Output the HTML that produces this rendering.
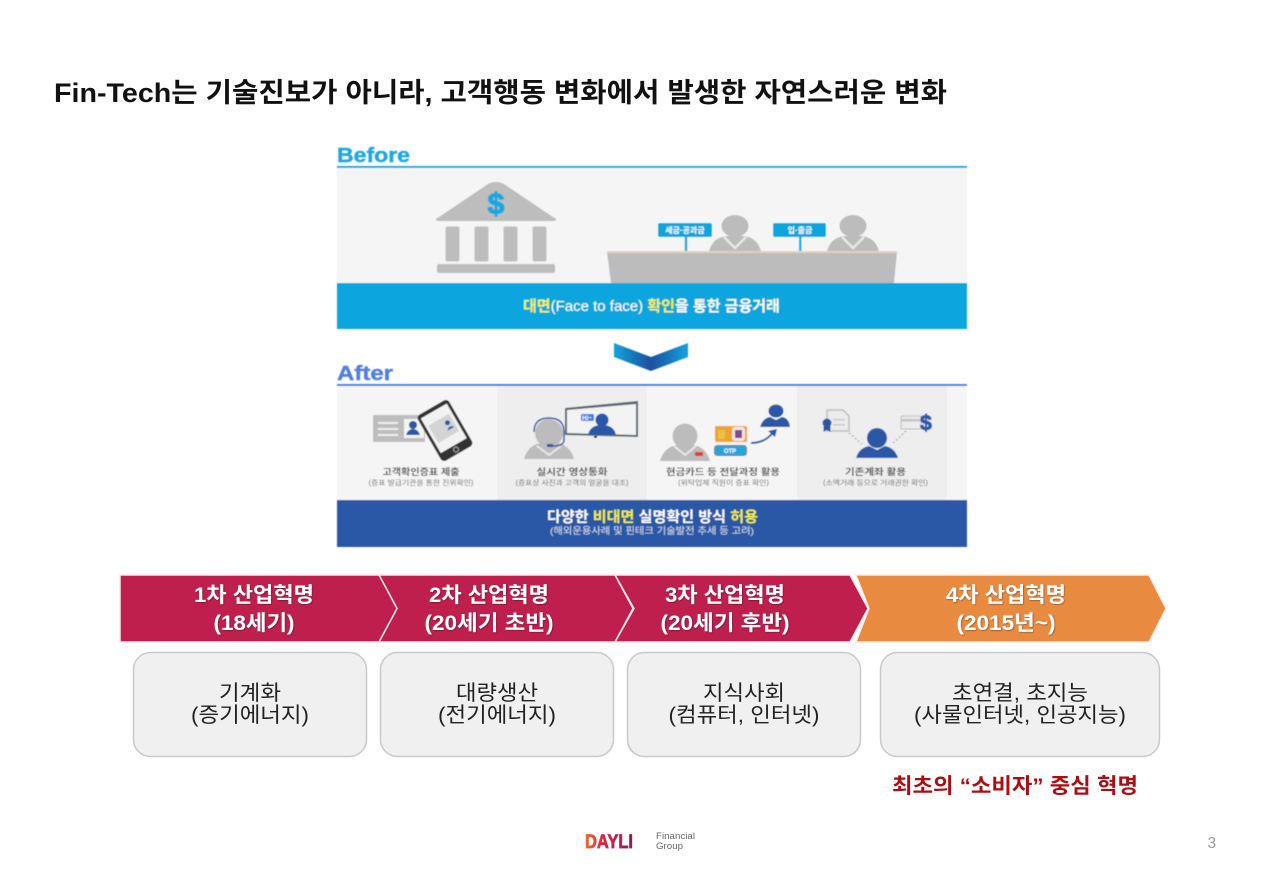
<!DOCTYPE html>
<html lang="ko"><head><meta charset="utf-8"><title>Fin-Tech</title>
<style>
html,body{margin:0;padding:0;background:#fff}
svg{display:block}
text{font-family:"Liberation Sans","Noto Sans CJK KR",sans-serif}
.c{text-anchor:middle}
</style></head>
<body>
<svg width="1280" height="886" viewBox="0 0 1280 886" xmlns="http://www.w3.org/2000/svg">
<defs>
<filter id="b" x="-2%" y="-2%" width="104%" height="104%"><feGaussianBlur stdDeviation="0.55"/></filter>
<filter id="s" x="-5%" y="-5%" width="110%" height="110%"><feDropShadow dx="0.8" dy="0.8" stdDeviation="0.6" flood-color="#000" flood-opacity="0.35"/></filter>
<linearGradient id="cl" x1="0" x2="1" y1="0" y2="0"><stop offset="0" stop-color="#11a3dd"/><stop offset="1" stop-color="#1d4f9f"/></linearGradient>
<linearGradient id="cr" x1="0" x2="1" y1="0" y2="0"><stop offset="0" stop-color="#1d4f9f"/><stop offset="1" stop-color="#11a3dd"/></linearGradient>
<linearGradient id="dl" x1="0" x2="1" y1="0" y2="0"><stop offset="0" stop-color="#ef6a2c"/><stop offset=".35" stop-color="#e3263f"/><stop offset=".75" stop-color="#b41f4e"/><stop offset="1" stop-color="#7c1f5f"/></linearGradient>
</defs>

<text x="54" y="102" font-size="27" font-weight="700" fill="#111" textLength="893" lengthAdjust="spacingAndGlyphs">Fin-Tech는 기술진보가 아니라, 고객행동 변화에서 발생한 자연스러운 변화</text>

<g filter="url(#b)">
<!-- Before -->
<text x="337" y="162" font-size="20" font-weight="700" fill="#1ea7e0" stroke="#1ea7e0" stroke-width=".4" textLength="73" lengthAdjust="spacingAndGlyphs">Before</text>
<rect x="337" y="166" width="630" height="2" fill="#1ea7e0"/>
<rect x="337" y="168" width="630" height="115" fill="#f5f5f5"/>
<path d="M436 220 Q436 218 439 217 L488 184 Q496 180 504 184 L553 217 Q556 218 556 220 Q556 221 553 221 L439 221 Q436 221 436 220Z" fill="#bdbdbd"/>
<rect x="445.500" y="226.500" width="14" height="35" rx="2" fill="#bdbdbd"/>
<rect x="474.500" y="226.500" width="14" height="35" rx="2" fill="#bdbdbd"/>
<rect x="503.500" y="226.500" width="14" height="35" rx="2" fill="#bdbdbd"/>
<rect x="532.500" y="226.500" width="14" height="35" rx="2" fill="#bdbdbd"/>
<rect x="437" y="264" width="118" height="9" rx="2" fill="#bdbdbd"/>
<text x="496" y="214" class="c" font-size="30" font-weight="700" fill="#1aa5e0" stroke="#1aa5e0" stroke-width="1.300">$</text>

<ellipse cx="735" cy="226" rx="13.500" ry="11" fill="#bcbcbc"/>
<path d="M709 251 Q713 237 727 236 L743 236 Q757 237 761 251Z" fill="#bcbcbc"/>
<path d="M724 237 L735 248 L746 237" fill="none" stroke="#e8e8e8" stroke-width="2.500"/>
<ellipse cx="853" cy="226" rx="13.500" ry="11" fill="#bcbcbc"/>
<path d="M827 251 Q831 237 845 236 L861 236 Q875 237 879 251Z" fill="#bcbcbc"/>
<path d="M842 237 L853 248 L864 237" fill="none" stroke="#e8e8e8" stroke-width="2.500"/>

<rect x="684.800" y="236" width="2.400" height="15" fill="#0ca5de"/>
<rect x="799" y="236" width="2.400" height="15" fill="#0ca5de"/>
<rect x="658" y="223" width="54" height="14" rx="2" fill="#0ca5de"/>
<rect x="773" y="223" width="53" height="14" rx="2" fill="#0ca5de"/>
<text x="685" y="233" class="c" font-size="8" font-weight="700" fill="#fff">세금·공과금</text>
<text x="800" y="233" class="c" font-size="8" font-weight="700" fill="#fff">입·출금</text>

<polygon points="607,252 897,252 894,283 611,283" fill="#bcbcbc"/>
<rect x="607" y="251" width="290" height="2" fill="#e6d3b8"/>

<rect x="337" y="283" width="630" height="46" fill="#0ca5de"/>
<text y="311" font-size="15" font-weight="700" fill="#fff"><tspan x="523" fill="#f3f24a">대면</tspan><tspan font-weight="400">(Face to face) </tspan><tspan fill="#f3f24a">확인</tspan>을 통한 금융거래</text>

<!-- arrow -->
<polygon points="614,343 651,357 651,371 614,357" fill="url(#cl)"/>
<polygon points="651,357 688,343 688,357 651,371" fill="url(#cr)"/>

<!-- After -->
<text x="337" y="380" font-size="20" font-weight="700" fill="#4f7fe0" stroke="#4f7fe0" stroke-width=".4" textLength="56" lengthAdjust="spacingAndGlyphs">After</text>
<rect x="337" y="384" width="630" height="2" fill="#4f7fe0"/>
<rect x="337" y="386" width="630" height="114" fill="#f5f5f5"/>
<rect x="497" y="386" width="150" height="114" fill="#eeeeee"/>
<rect x="797" y="386" width="150" height="114" fill="#eeeeee"/>

<!-- panel 1 icon -->
<rect x="373" y="415" width="52" height="27" rx="1" fill="#bdbdbd"/>
<rect x="378" y="422" width="20" height="2" fill="#eee"/><rect x="378" y="428" width="20" height="2" fill="#eee"/><rect x="378" y="434" width="20" height="2" fill="#eee"/>
<rect x="404" y="419" width="20" height="19" fill="#f4f4f4"/>
<circle cx="413" cy="425" r="4" fill="#2a58a6"/><path d="M406 435 Q408 429 413 429 Q418 429 420 435Z" fill="#2a58a6"/>
<g transform="rotate(-30 445 430.500)">
<rect x="427" y="404" width="36" height="53" rx="4" fill="#333"/>
<rect x="430" y="408" width="30" height="40" fill="#f2f2f2"/>
<rect x="433" y="418" width="24" height="20" fill="#d4d4d4"/>
<circle cx="451" cy="425" r="2.500" fill="#2a58a6"/><path d="M447 432 Q451 427 455 432Z" fill="#2a58a6"/>
<circle cx="445" cy="452.500" r="2.500" fill="none" stroke="#aaa" stroke-width="1"/>
</g>
<text x="421" y="475" class="c" font-size="9" font-weight="700" fill="#555" textLength="77" lengthAdjust="spacingAndGlyphs">고객확인증표 제출</text>
<text x="421" y="485" class="c" font-size="7" fill="#666" textLength="105" lengthAdjust="spacingAndGlyphs">(증표 발급기관을 통한 진위확인)</text>

<!-- panel 2 icon -->
<polygon points="565,408 638,401 638,437 565,435" fill="#5a6672"/>
<polygon points="567,410 636,404 636,435 567,433" fill="#f3f3f3"/>
<circle cx="602" cy="420" r="6.500" fill="#2a58a6"/>
<path d="M588 435 Q590 425 602 425 Q614 425 616 435Z" fill="#2a58a6"/>
<rect x="581" y="414" width="13" height="7" rx="1.500" fill="#4a7fd8"/>
<text x="587" y="420" class="c" font-size="6" font-weight="700" fill="#fff">Hi~</text>
<rect x="594" y="436" width="3" height="2" fill="#333"/>
<ellipse cx="549" cy="433" rx="14" ry="14" fill="#bcbcbc"/>
<path d="M524 459 Q528 445 541 443 L557 443 Q570 445 574 459Z" fill="#bcbcbc"/>
<path d="M537 446 L549 455 L561 446" fill="none" stroke="#e8e8e8" stroke-width="2"/>
<path d="M534 432 Q534 418 549 418 Q564 418 564 432 L564 441 Q563 446 553 446" fill="none" stroke="#2a58a6" stroke-width="1.500"/>
<rect x="547" y="444" width="6" height="3" fill="#2a58a6"/>
<text x="572" y="475" class="c" font-size="9" font-weight="700" fill="#555" textLength="71" lengthAdjust="spacingAndGlyphs">실시간 영상통화</text>
<text x="572" y="485" class="c" font-size="7" fill="#666" textLength="113" lengthAdjust="spacingAndGlyphs">(증표상 사진과 고객의 얼굴을 대조)</text>

<!-- panel 3 icon -->
<circle cx="685" cy="436" r="12.500" fill="#bcbcbc"/>
<path d="M660 461 Q664 447 677 445 L693 445 Q706 447 710 461Z" fill="#bcbcbc"/>
<path d="M674 446 L685 455 L696 446" fill="none" stroke="#e8e8e8" stroke-width="2"/>
<rect x="695" y="452" width="8" height="4" fill="#e04030"/>
<rect x="715" y="426" width="32" height="16" rx="1.500" fill="#f0a22e"/>
<rect x="718" y="430" width="7" height="9" fill="#e8c24a"/>
<rect x="732" y="427" width="13" height="14" rx="3" fill="#f3e6e6"/>
<rect x="735" y="430" width="7" height="8" fill="#7f4a8a"/>
<rect x="714.500" y="445.500" width="32" height="10" rx="3" fill="#26a5dd" stroke="#777" stroke-width="1"/>
<text x="730" y="453" class="c" font-size="6" font-weight="700" fill="#fff">OTP</text>
<path d="M751 443 Q766 443 774 431" fill="none" stroke="#2a58a6" stroke-width="2"/>
<polygon points="777,429 768,431 775,437" fill="#2a58a6"/>
<ellipse cx="776" cy="411" rx="7.500" ry="6.500" fill="#2a58a6"/>
<path d="M760 427 Q763 418 770 417 L776 420 L782 417 Q789 418 790 427Z" fill="#2a58a6"/>
<text x="723" y="475" class="c" font-size="9" font-weight="700" fill="#555" textLength="114" lengthAdjust="spacingAndGlyphs">현금카드 등 전달과정 활용</text>
<text x="723.500" y="485" class="c" font-size="7" fill="#666" textLength="91" lengthAdjust="spacingAndGlyphs">(위탁업체 직원이 증표 확인)</text>

<!-- panel 4 icon -->
<path d="M827 410 H843 L849 416 V431 H827Z" fill="#ececec" stroke="#bdbdbd" stroke-width="1.500"/>
<rect x="833" y="419" width="12" height="1.500" fill="#c8c8c8"/><rect x="833" y="424" width="12" height="1.500" fill="#c8c8c8"/>
<circle cx="827" cy="423" r="4.500" fill="#2a58a6"/><polygon points="823.500,426 830.500,426 830.500,432 827,430 823.500,432" fill="#2a58a6"/>
<rect x="901" y="416" width="20" height="13" rx="1" fill="#ececec" stroke="#bdbdbd" stroke-width="1"/>
<rect x="901" y="419" width="20" height="2.500" fill="#c4c4c4"/>
<text x="926" y="430" class="c" font-size="21" font-weight="700" fill="#2a58a6" stroke="#2a58a6" stroke-width="1">$</text>
<path d="M849 433 L862 444 M906 431 L892 444" stroke="#aaa" stroke-width="1.500" stroke-dasharray="1.500 2.500" fill="none"/>
<ellipse cx="877" cy="438" rx="10" ry="10" fill="#2a58a6"/>
<path d="M856 458 Q859 448 869 446 L877 450 L885 446 Q895 448 898 458Z" fill="#2a58a6"/>
<text x="875.500" y="475" class="c" font-size="9" font-weight="700" fill="#555" textLength="61" lengthAdjust="spacingAndGlyphs">기존계좌 활용</text>
<text x="875.500" y="485" class="c" font-size="7" fill="#666" textLength="105" lengthAdjust="spacingAndGlyphs">(소액거래 등으로 거래권한 확인)</text>

<rect x="337" y="500" width="630" height="47" fill="#2a58a6"/>
<text y="522" font-size="14.500" font-weight="700" fill="#fff" x="547" textLength="211" lengthAdjust="spacingAndGlyphs">다양한 <tspan fill="#f5ee3a">비대면</tspan> 실명확인 방식 <tspan fill="#f5ee3a">허용</tspan></text>
<text x="550" y="534" font-size="9.500" fill="#d5deef" textLength="204" lengthAdjust="spacingAndGlyphs">(해외운용사례 및 핀테크 기술발전 추세 등 고려)</text>
</g>

<!-- chevrons -->
<polygon points="856,575 1149,575 1166,608.500 1149,642 856,642 869,608.500" fill="#e98a41" stroke="#f6ece4" stroke-width="1.500"/>
<polygon points="615,575 850,575 868,608.500 850,642 615,642 634,608.500" fill="#bf1f4c" stroke="#f7e9ed" stroke-width="1.500"/>
<polygon points="379,575 615,575 633,608.500 615,642 379,642 397,608.500" fill="#bf1f4c" stroke="#f7e9ed" stroke-width="1.500"/>
<polygon points="120,575 379,575 397,608.500 379,642 120,642" fill="#bf1f4c" stroke="#f7e9ed" stroke-width="1.500"/>

<g font-size="21" font-weight="700" fill="#fff" text-anchor="middle" filter="url(#s)">
<text x="254" y="602" textLength="120" lengthAdjust="spacingAndGlyphs">1차 산업혁명</text>
<text x="254" y="630" textLength="81" lengthAdjust="spacingAndGlyphs">(18세기)</text>
<text x="489" y="602" textLength="120" lengthAdjust="spacingAndGlyphs">2차 산업혁명</text>
<text x="489" y="630" textLength="129" lengthAdjust="spacingAndGlyphs">(20세기 초반)</text>
<text x="725" y="602" textLength="120" lengthAdjust="spacingAndGlyphs">3차 산업혁명</text>
<text x="725" y="630" textLength="129" lengthAdjust="spacingAndGlyphs">(20세기 후반)</text>
<text x="1006" y="602" textLength="120" lengthAdjust="spacingAndGlyphs">4차 산업혁명</text>
<text x="1006" y="630" textLength="99" lengthAdjust="spacingAndGlyphs">(2015년~)</text>
</g>

<!-- boxes -->
<g fill="#f0f0f0" stroke="#c9c9c9" stroke-width="1.500">
<rect x="133.500" y="652.500" width="233" height="104" rx="17"/>
<rect x="380.500" y="652.500" width="233" height="104" rx="17"/>
<rect x="627.500" y="652.500" width="233" height="104" rx="17"/>
<rect x="880.500" y="652.500" width="279" height="104" rx="17"/>
</g>
<g font-size="21" fill="#222" text-anchor="middle">
<text x="250" y="700" textLength="62" lengthAdjust="spacingAndGlyphs">기계화</text>
<text x="250" y="722" textLength="118" lengthAdjust="spacingAndGlyphs">(증기에너지)</text>
<text x="497" y="700" textLength="82" lengthAdjust="spacingAndGlyphs">대량생산</text>
<text x="497" y="722" textLength="118" lengthAdjust="spacingAndGlyphs">(전기에너지)</text>
<text x="744" y="700" textLength="82" lengthAdjust="spacingAndGlyphs">지식사회</text>
<text x="744" y="722" textLength="151" lengthAdjust="spacingAndGlyphs">(컴퓨터, 인터넷)</text>
<text x="1020" y="700" textLength="136" lengthAdjust="spacingAndGlyphs">초연결, 초지능</text>
<text x="1020" y="722" textLength="212" lengthAdjust="spacingAndGlyphs">(사물인터넷, 인공지능)</text>
</g>

<text x="892" y="793" font-size="21" font-weight="700" fill="#ac0d12" textLength="246" lengthAdjust="spacingAndGlyphs">최초의 “소비자” 중심 혁명</text>

<!-- footer -->
<text x="585" y="848" font-size="19" font-weight="700" fill="url(#dl)" stroke="url(#dl)" stroke-width=".7" textLength="48" lengthAdjust="spacingAndGlyphs" style="font-family:'Liberation Sans',sans-serif">DAYLI</text>
<text x="656" y="839" font-size="9.500" fill="#666" textLength="39" lengthAdjust="spacingAndGlyphs">Financial</text>
<text x="656" y="849" font-size="9.500" fill="#666" textLength="27" lengthAdjust="spacingAndGlyphs">Group</text>
<text x="1207.500" y="848" font-size="15.500" fill="#9a9a9a">3</text>
</svg>
</body></html>
